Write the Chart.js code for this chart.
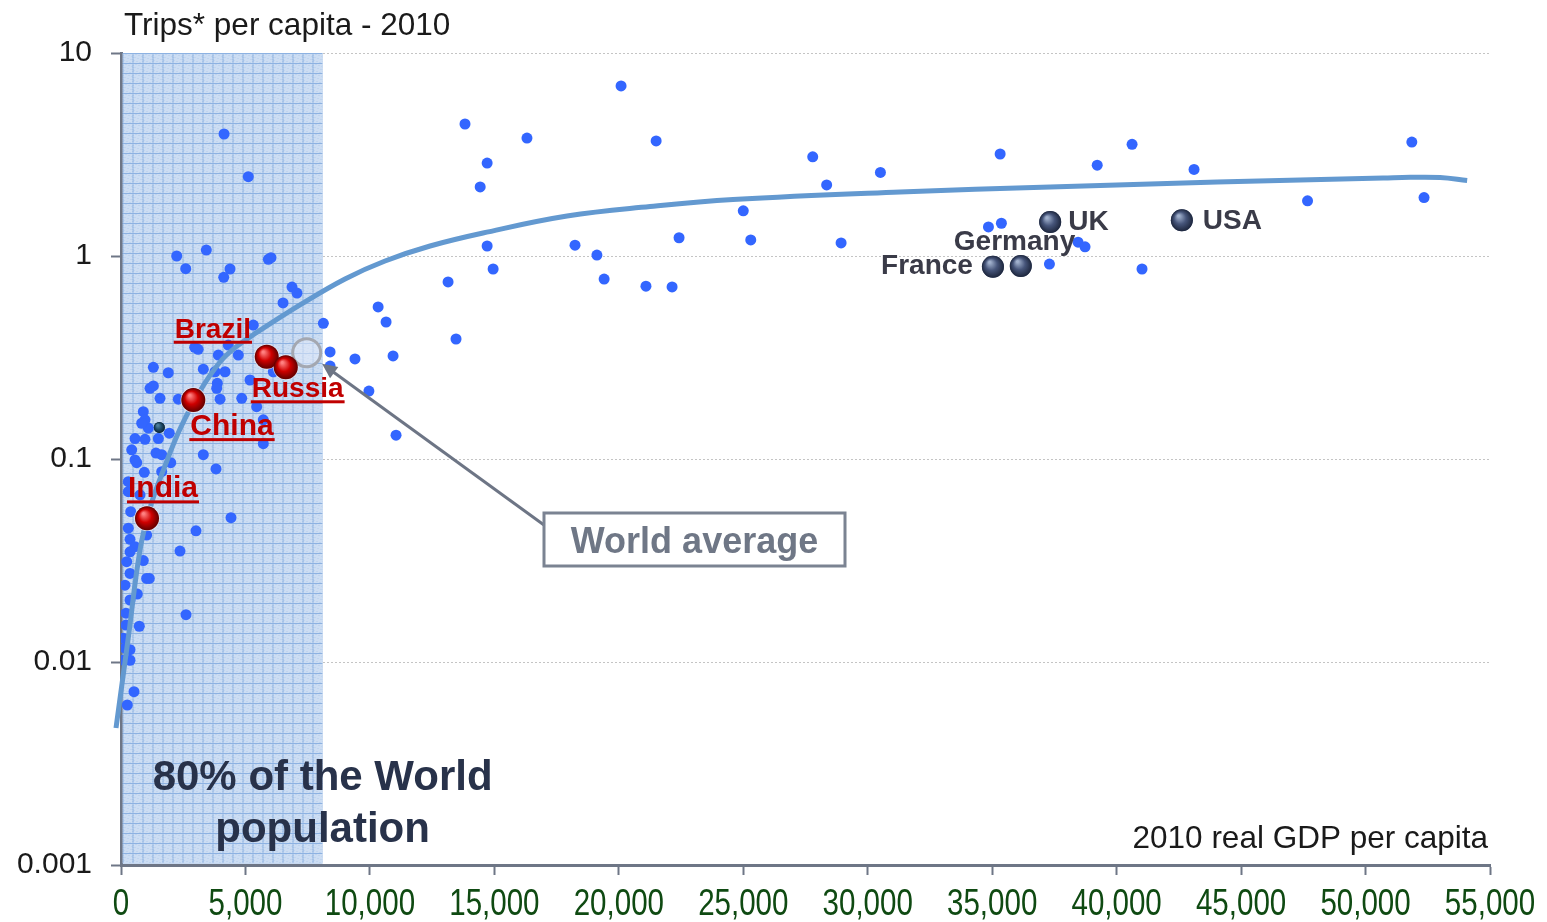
<!DOCTYPE html>
<html>
<head>
<meta charset="utf-8">
<script src="https://cdn.jsdelivr.net/npm/chart.js@4"></script>
<style>
  html, body { margin: 0; padding: 0; background: #ffffff; }
  #wrap { width: 1547px; height: 922px; position: relative; }
</style>
</head>
<body>
<div id="wrap"><canvas id="c" width="1547" height="922"></canvas></div>
<script>
// ---- data: 2010 real GDP per capita vs trips per capita ----
const dotGdp = [
  20090, 13820, 16310, 21500, 14710, 14430, 14710, 14950, 13140, 13460,
  10330, 10650, 10930, 9960, 11050, 9400, 8400, 8400, 8130, 18240,
  19120, 19410, 21090, 22140, 22420, 25000, 25300, 27790, 28350, 28930,
  30510, 34850, 35370, 35320, 37300, 38450, 38730, 41020, 39220, 40620,
  43110, 47670, 51860, 52350,
  4140, 5115, 2238, 2600, 3428, 4380, 4127, 5920, 6027, 6870,
  7070, 6510, 5316, 2960, 3100, 3910, 4310, 4713, 1300, 1900,
  3307, 3777, 4179, 3870, 3845, 5183, 6120, 1165, 1300, 1567,
  2303, 3980, 4850, 896, 5717, 5450, 1098, 1940, 563, 965,
  1500, 430, 1406, 1635, 1997, 563, 631, 3307, 3817, 5717,
  936, 1635, 293, 293, 763, 390, 4420, 3013, 293, 1030,
  362, 2370, 563, 362, 229, 896, 965, 831, 362, 1030,
  1137, 161, 655, 362, 2612, 201, 735, 201, 92, 161,
  362, 92, 362, 522, 253
];
const dotTrips = [
  6.88, 4.47, 3.81, 3.69, 2.87, 2.19, 1.12, 0.863, 0.745, 0.390,
  0.561, 0.473, 0.322, 0.216, 0.131, 0.311, 0.337, 0.287, 0.466, 1.13,
  1.01, 0.77, 0.71, 0.704, 1.23, 1.67, 1.20, 3.08, 2.24, 1.16,
  2.58, 1.39, 1.45, 3.18, 0.913, 1.17, 1.11, 0.863, 2.80, 3.55,
  2.67, 1.87, 3.64, 1.94,
  3.99, 2.46, 1.00, 0.866, 1.07, 0.863, 0.785, 0.963, 0.981, 0.703,
  0.657, 0.587, 0.457, 0.355, 0.347, 0.325, 0.364, 0.325, 0.283, 0.266,
  0.277, 0.269, 0.269, 0.236, 0.223, 0.245, 0.269, 0.223, 0.229, 0.199,
  0.197, 0.197, 0.199, 0.171, 0.156, 0.181, 0.142, 0.134, 0.126, 0.125,
  0.126, 0.111, 0.107, 0.105, 0.0959, 0.0989, 0.0959, 0.105, 0.0893, 0.119,
  0.086, 0.0866, 0.0773, 0.069, 0.0665, 0.055, 0.0514, 0.0443, 0.0456, 0.0422,
  0.0402, 0.0352, 0.037, 0.0349, 0.0312, 0.0316, 0.156, 0.150, 0.0273, 0.0258,
  0.0258, 0.0239, 0.0216, 0.0202, 0.0171, 0.0174, 0.0150, 0.0152, 0.0131, 0.0117,
  0.0115, 0.0102, 0.0102, 0.00714, 0.00614
];

// emerging economies
const emergingNames = ['India', 'China', 'Brazil', 'Russia'];
const emergingGdp   = [1045, 2905, 5855, 6620];
const emergingTrips = [0.051, 0.195, 0.319, 0.283];

// advanced economies
const advancedNames = ['France', 'Germany', 'UK', 'USA'];
const advancedGdp   = [35030, 36150, 37330, 42620];
const advancedTrips = [0.886, 0.893, 1.47, 1.50];

// one further marked country
const markedGdp   = [1540];
const markedTrips = [0.143];

// world average point
const worldGdp   = [7460];
const worldTrips = [0.334];

// fitted world-average curve
const trendGdp = [
  -201, 281, 763, 1165, 1768, 2371, 3174, 3978, 4621, 5304,
  7192, 9000, 10608, 12416, 14545, 17920, 21255, 24590, 31300, 37327,
  44037, 50707, 51792, 52997, 54082
];
const trendTrips = [
  0.00473, 0.01285, 0.0356, 0.0574, 0.0925, 0.1406, 0.2163, 0.3006, 0.3565, 0.4083,
  0.5741, 0.7710, 0.9449, 1.120, 1.298, 1.574, 1.753, 1.898, 2.067, 2.187,
  2.315, 2.423, 2.442, 2.436, 2.355
];

// band holding 80% of the world population
const shadeMaxGdp = 8100;

// axes
const yTickValues = [0.001, 0.01, 0.1, 1, 10];
const yTickLabels = ['0.001', '0.01', '0.1', '1', '10'];
const xMax = 55000;
const xStep = 5000;

// ---- helpers ----
const pts = (xs, ys) => xs.map((v, i) => ({ x: v, y: ys[i] }));

function bandPattern(ctx) {
  const t = document.createElement('canvas');
  t.width = 10; t.height = 10;
  const g = t.getContext('2d');
  g.fillStyle = '#bfd4ef';
  g.fillRect(0, 0, 10, 10);
  g.fillStyle = '#d9e6f7';
  for (let i = 0; i < 10; i++) {
    for (let j = 0; j < 10; j++) {
      if ((i + j) % 2 === 0 && (i * 3 + j) % 5 !== 0) g.fillRect(i, j, 1, 1);
    }
  }
  g.fillStyle = '#8db2e2';
  g.fillRect(0, 0, 10, 1);
  g.fillRect(0, 0, 1, 10);
  return ctx.createPattern(t, 'repeat');
}

// shaded spheres painted over the highlighted points
const sphereLooks = {
  Emerging: { light: '#ff8080', mid: '#cf0000', dark: '#600000' },
  Advanced: { light: '#a0b0cc', mid: '#46557a', dark: '#1d263c' },
  Marked:   { light: '#4d7d9a', mid: '#1e4a66', dark: '#0c2233' }
};

const labelStyles = {
  India:   { dx: -19, dy: -21, align: 'left',  size: 30, color: '#c00000', underline: true },
  China:   { dx: -3,  dy: 35,  align: 'left',  size: 30, color: '#c00000', underline: true },
  Brazil:  { dx: -92, dy: -19, align: 'left',  size: 28, color: '#c00000', underline: true },
  Russia:  { dx: -34, dy: 30,  align: 'left',  size: 28, color: '#c00000', underline: true },
  France:  { dx: -20, dy: 7,   align: 'right', size: 28, color: '#3a3b48', underline: false },
  Germany: { dx: -67, dy: -16, align: 'left',  size: 28, color: '#3a3b48', underline: false },
  UK:      { dx: 18,  dy: 8,   align: 'left',  size: 28, color: '#3a3b48', underline: false },
  USA:     { dx: 21,  dy: 9,   align: 'left',  size: 28, color: '#3a3b48', underline: false }
};

const SANS = '"Liberation Sans", Arial, Helvetica, sans-serif';

const overlay = {
  id: 'overlay',
  beforeDatasetsDraw(chart) {
    const { ctx, chartArea: a, scales: { x } } = chart;
    const x0 = x.getPixelForValue(0) + 1.5;
    const x1 = x.getPixelForValue(shadeMaxGdp);
    ctx.save();
    ctx.fillStyle = bandPattern(ctx);
    ctx.translate(x0, a.top);
    ctx.fillRect(0, 0, x1 - x0, a.bottom - a.top - 1.5);
    ctx.restore();
  },
  afterDatasetsDraw(chart) {
    const { ctx, scales: { x, y } } = chart;
    ctx.save();

    // sphere shading
    chart.data.datasets.forEach((ds, di) => {
      const look = sphereLooks[ds.label];
      if (!look) return;
      const meta = chart.getDatasetMeta(di);
      meta.data.forEach((el) => {
        const r = el.options.radius;
        const g = ctx.createRadialGradient(el.x - r * 0.3, el.y - r * 0.4, 1, el.x, el.y, r);
        g.addColorStop(0, look.light);
        g.addColorStop(0.5, look.mid);
        g.addColorStop(1, look.dark);
        ctx.fillStyle = g;
        ctx.beginPath();
        ctx.arc(el.x, el.y, r, 0, Math.PI * 2);
        ctx.fill();
      });
    });

    // band caption
    const cx = x.getPixelForValue(shadeMaxGdp);
    ctx.fillStyle = '#28324a';
    ctx.font = 'bold 42px ' + SANS;
    ctx.textAlign = 'center';
    ctx.textBaseline = 'alphabetic';
    ctx.fillText('80% of the World', cx, 790);
    ctx.fillText('population', cx, 842);

    // country labels
    const drawLabel = (name, gx, gy) => {
      const s = labelStyles[name];
      const px = x.getPixelForValue(gx) + s.dx;
      const py = y.getPixelForValue(gy) + s.dy;
      ctx.font = 'bold ' + s.size + 'px ' + SANS;
      ctx.textAlign = s.align;
      ctx.fillStyle = s.color;
      ctx.fillText(name, px, py);
      if (s.underline) {
        const w = ctx.measureText(name).width;
        const lx = s.align === 'right' ? px - w : px;
        ctx.fillRect(lx - 1, py + 3, w + 2, 3);
      }
    };
    emergingNames.forEach((n, i) => drawLabel(n, emergingGdp[i], emergingTrips[i]));
    advancedNames.forEach((n, i) => drawLabel(n, advancedGdp[i], advancedTrips[i]));

    // "World average" call-out
    const bx = 544, by = 513, bw = 301, bh = 53;
    const wx = x.getPixelForValue(worldGdp[0]);
    const wy = y.getPixelForValue(worldTrips[0]);
    const sx = bx, sy = by + 12;
    const dx = sx - wx, dy = sy - wy;
    const len = Math.hypot(dx, dy);
    const ux = dx / len, uy = dy / len;
    const tipX = wx + ux * 19, tipY = wy + uy * 19;
    ctx.strokeStyle = '#6d7585';
    ctx.lineWidth = 3;
    ctx.beginPath();
    ctx.moveTo(sx, sy);
    ctx.lineTo(tipX + ux * 10, tipY + uy * 10);
    ctx.stroke();
    ctx.fillStyle = '#6d7585';
    ctx.beginPath();
    ctx.moveTo(tipX, tipY);
    ctx.lineTo(tipX + ux * 15 - uy * 7, tipY + uy * 15 + ux * 7);
    ctx.lineTo(tipX + ux * 15 + uy * 7, tipY + uy * 15 - ux * 7);
    ctx.closePath();
    ctx.fill();

    ctx.fillStyle = '#ffffff';
    ctx.fillRect(bx, by, bw, bh);
    ctx.strokeStyle = '#7b8392';
    ctx.lineWidth = 3;
    ctx.strokeRect(bx, by, bw, bh);
    ctx.fillStyle = '#6f7786';
    ctx.font = 'bold 36px ' + SANS;
    ctx.textAlign = 'center';
    ctx.fillText('World average', bx + bw / 2, by + 40);

    ctx.restore();
  },
  afterDraw(chart) {
    const { ctx, chartArea: a, scales: { x } } = chart;
    ctx.save();
    ctx.fillStyle = '#1a1a1a';
    ctx.font = '31.5px ' + SANS;
    ctx.textBaseline = 'alphabetic';
    ctx.textAlign = 'left';
    ctx.fillText('Trips* per capita - 2010', a.left + 3, 35);
    ctx.textAlign = 'right';
    ctx.fillText('2010 real GDP per capita', a.right - 2, 848);

    // condensed GDP tick labels
    ctx.fillStyle = '#0f4a12';
    ctx.font = '36px ' + SANS;
    ctx.textAlign = 'center';
    x.ticks.forEach((t) => {
      const px = x.getPixelForValue(t.value);
      ctx.save();
      ctx.translate(px, a.bottom + 50);
      ctx.scale(0.82, 1);
      ctx.fillText(Number(t.value).toLocaleString('en-US'), 0, 0);
      ctx.restore();
    });
    ctx.restore();
  }
};

new Chart(document.getElementById('c'), {
  type: 'scatter',
  data: {
    datasets: [
      {
        label: 'World average point',
        data: pts(worldGdp, worldTrips),
        pointRadius: 14,
        backgroundColor: 'rgba(226,233,247,0.55)',
        borderColor: '#a4a8b1',
        borderWidth: 3,
        order: 0
      },
      {
        label: 'Emerging',
        data: pts(emergingGdp, emergingTrips),
        pointRadius: 12,
        backgroundColor: '#cf0000',
        borderColor: 'rgba(235,240,250,0.75)',
        borderWidth: 1.5,
        order: 1
      },
      {
        label: 'Advanced',
        data: pts(advancedGdp, advancedTrips),
        pointRadius: 11,
        backgroundColor: '#46557a',
        borderWidth: 0,
        order: 1
      },
      {
        label: 'World average',
        type: 'line',
        data: pts(trendGdp, trendTrips),
        borderColor: '#6399d0',
        borderWidth: 5,
        pointRadius: 0,
        fill: false,
        tension: 0.4,
        clip: false,
        order: 2
      },
      {
        label: 'Marked',
        data: pts(markedGdp, markedTrips),
        pointRadius: 5.5,
        backgroundColor: '#1e4a66',
        borderWidth: 0,
        order: 3
      },
      {
        label: 'Countries',
        data: pts(dotGdp, dotTrips),
        pointRadius: 5.5,
        backgroundColor: '#3366ff',
        borderWidth: 0,
        order: 4
      }
    ]
  },
  options: {
    responsive: false,
    animation: false,
    events: [],
    layout: { padding: { top: 53, right: 57, left: 0, bottom: 0 } },
    plugins: {
      legend: { display: false },
      tooltip: { enabled: false },
      title: { display: false }
    },
    scales: {
      x: {
        type: 'linear',
        min: 0,
        max: xMax,
        afterFit: (s) => { s.height = 57; },
        ticks: {
          stepSize: xStep,
          display: false
        },
        grid: {
          drawOnChartArea: false,
          drawTicks: true,
          tickLength: 10,
          tickWidth: 2,
          tickColor: '#6e7686'
        },
        border: { display: true, color: '#6e7686', width: 3 }
      },
      y: {
        type: 'logarithmic',
        min: 0.001,
        max: 10,
        afterFit: (s) => { s.width = 121; },
        afterBuildTicks: (s) => { s.ticks = yTickValues.map((v) => ({ value: v })); },
        ticks: {
          padding: 19,
          color: '#1a1a1a',
          font: { family: SANS, size: 30 },
          callback: (v, i) => yTickLabels[i]
        },
        grid: {
          color: '#c4c4c4',
          lineWidth: 1,
          tickLength: 10,
          tickWidth: 2,
          tickColor: '#6e7686'
        },
        border: { display: true, color: '#6e7686', width: 3, dash: [2, 2] }
      }
    }
  },
  plugins: [overlay]
});
</script>
</body>
</html>
